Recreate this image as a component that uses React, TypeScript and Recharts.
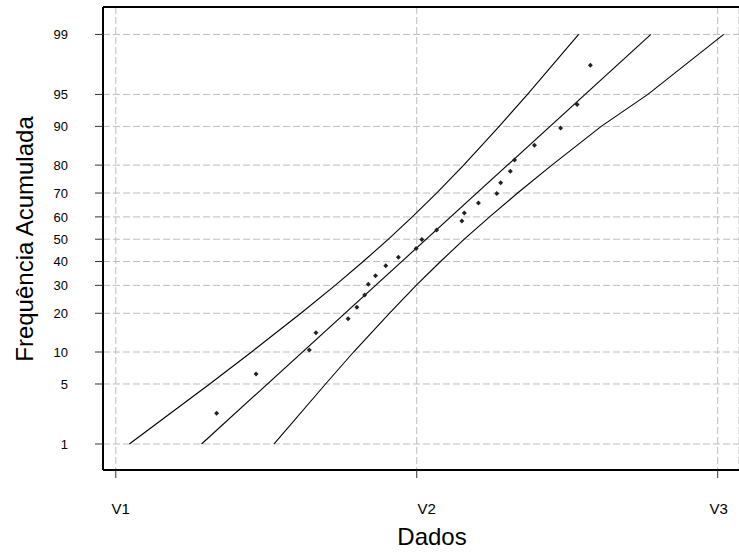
import React from "react"
import {
  ComposedChart,
  Line,
  Scatter,
  XAxis,
  YAxis,
  CartesianGrid,
  ReferenceLine,
} from "recharts"

// percent levels shown on the probability axis
const PCT_TICKS = [1, 5, 10, 20, 30, 40, 50, 60, 70, 80, 90, 95, 99]
const X_TICKS = [0, 1, 2]
const X_LABELS = ["V1", "V2", "V3"]

// observed data (x) and cumulative frequency (%)
const SAMPLE_X = [
  0.335, 0.466, 0.643, 0.665, 0.772, 0.801, 0.827, 0.839, 0.863, 0.897, 0.939, 0.998, 1.017,
  1.066, 1.15, 1.158, 1.205, 1.266, 1.279, 1.311, 1.325, 1.391, 1.478, 1.533, 1.577,
]
const SAMPLE_PCT = [
  2.4, 6.3, 10.4, 14.4, 18.3, 22.0, 26.3, 30.4, 33.9, 38.2, 41.9, 45.8, 49.9, 54.2, 58.2,
  61.7, 66.0, 69.8, 73.9, 78.0, 81.6, 85.7, 89.7, 93.7, 97.6,
]

// fitted line end points
const FIT_PCT = [1, 99]
const FIT_X = [0.285, 1.778]

// confidence band, read at each percent level of PCT_TICKS
const UPPER_X = [0.045, 0.312, 0.451, 0.615, 0.729, 0.822, 0.906, 0.985, 1.066, 1.156, 1.274, 1.368, 1.538]
const LOWER_X = [0.526, 0.697, 0.79, 0.909, 0.998, 1.079, 1.158, 1.242, 1.335, 1.449, 1.613, 1.768, 2.02]

// inverse normal cdf (Acklam) - maps percent to probit axis
function probit(p: number) {
  const a = [-39.69683028665376, 220.9460984245205, -275.9285104469687, 138.357751867269, -30.66479806614716, 2.506628277459239]
  const b = [-54.47609879822406, 161.5858368580409, -155.6989798598866, 66.80131188771972, -13.28068155288572]
  const c = [-0.007784894002430293, -0.3223964580411365, -2.400758277161838, -2.549732539343734, 4.374664141464968, 2.938163982698783]
  const d = [0.007784695709041462, 0.3224671290700398, 2.445134137142996, 3.754408661907416]
  const pl = 0.02425
  if (p < pl) {
    const q = Math.sqrt(-2 * Math.log(p))
    return (((((c[0] * q + c[1]) * q + c[2]) * q + c[3]) * q + c[4]) * q + c[5]) / ((((d[0] * q + d[1]) * q + d[2]) * q + d[3]) * q + 1)
  }
  if (p > 1 - pl) {
    const q = Math.sqrt(-2 * Math.log(1 - p))
    return -(((((c[0] * q + c[1]) * q + c[2]) * q + c[3]) * q + c[4]) * q + c[5]) / ((((d[0] * q + d[1]) * q + d[2]) * q + d[3]) * q + 1)
  }
  const q = p - 0.5
  const r = q * q
  return ((((((a[0] * r + a[1]) * r + a[2]) * r + a[3]) * r + a[4]) * r + a[5]) * q) / (((((b[0] * r + b[1]) * r + b[2]) * r + b[3]) * r + b[4]) * r + 1)
}

const z = (pct: number) => probit(pct / 100)

const points = SAMPLE_X.map((x, i) => ({ x, y: z(SAMPLE_PCT[i]) }))
const fitLine = FIT_X.map((x, i) => ({ x, y: z(FIT_PCT[i]) }))
const upperBand = UPPER_X.map((x, i) => ({ x, y: z(PCT_TICKS[i]) }))
const lowerBand = LOWER_X.map((x, i) => ({ x, y: z(PCT_TICKS[i]) }))
const yTicks = PCT_TICKS.map(z)

const Y_DOMAIN: [number, number] = [-2.622, 2.638]
const X_DOMAIN: [number, number] = [-0.0425, 2.0708]
const FONT = "'Liberation Sans', Arial, sans-serif"

// label for a probit tick value
const pctLabel = (v: number) => {
  let best = 0
  yTicks.forEach((t, i) => {
    if (Math.abs(t - v) < Math.abs(yTicks[best] - v)) best = i
  })
  return PCT_TICKS[best]
}

const YTick = (props: any) => {
  const { y, payload } = props
  return (
    <text x={68} y={y} dy="0.36em" textAnchor="end" fontSize={13} fontFamily={FONT} fill="#000">
      {pctLabel(payload.value)}
    </text>
  )
}

const XTick = (props: any) => {
  const { x, y, payload } = props
  const i = X_TICKS.indexOf(payload.value)
  const dx = [5, 10, 1][i] ?? 0
  return (
    <text x={x + dx} y={y + 34} textAnchor="middle" fontSize={15} fontFamily={FONT} fill="#000">
      {X_LABELS[i]}
    </text>
  )
}

const Dot = (props: any) => {
  const { cx, cy } = props
  return <path d={`M${cx},${cy - 2.5}L${cx + 2.5},${cy}L${cx},${cy + 2.5}L${cx - 2.5},${cy}Z`} fill="#222" />
}

export default function App() {
  return (
    <div style={{ position: "absolute", left: 0, top: 0, width: 739, height: 553, overflow: "hidden", background: "#fff" }}>
      <ComposedChart width={739} height={553} margin={{ top: 7, right: 0, bottom: 0, left: 0 }}>
        <CartesianGrid stroke="#bdbdbd" strokeDasharray="7 3" />
        <XAxis
          type="number"
          dataKey="x"
          domain={X_DOMAIN}
          ticks={X_TICKS}
          interval={0}
          allowDataOverflow
          height={83}
          tickSize={8}
          tick={<XTick />}
          axisLine={{ stroke: "#000", strokeWidth: 2 }}
          tickLine={{ stroke: "#333" }}
        />
        <YAxis
          type="number"
          dataKey="y"
          domain={Y_DOMAIN}
          ticks={yTicks}
          interval={0}
          allowDataOverflow
          width={103}
          tickSize={8}
          tick={<YTick />}
          axisLine={{ stroke: "#000", strokeWidth: 2 }}
          tickLine={{ stroke: "#333" }}
        />
        <ReferenceLine y={Y_DOMAIN[1]} stroke="#000" strokeWidth={2} />
        <Line data={upperBand} dataKey="y" type="linear" stroke="#000" strokeWidth={1.1} dot={false} isAnimationActive={false} />
        <Line data={fitLine} dataKey="y" type="linear" stroke="#000" strokeWidth={1.1} dot={false} isAnimationActive={false} />
        <Line data={lowerBand} dataKey="y" type="linear" stroke="#000" strokeWidth={1.1} dot={false} isAnimationActive={false} />
        <Scatter data={points} dataKey="y" shape={<Dot />} isAnimationActive={false} />
        <text x={432} y={545} textAnchor="middle" fontSize={24} fontFamily={FONT} fill="#000">
          Dados
        </text>
        <text transform="translate(33,239) rotate(-90)" textAnchor="middle" fontSize={24} fontFamily={FONT} fill="#000">
          Frequência Acumulada
        </text>
      </ComposedChart>
    </div>
  )
}
